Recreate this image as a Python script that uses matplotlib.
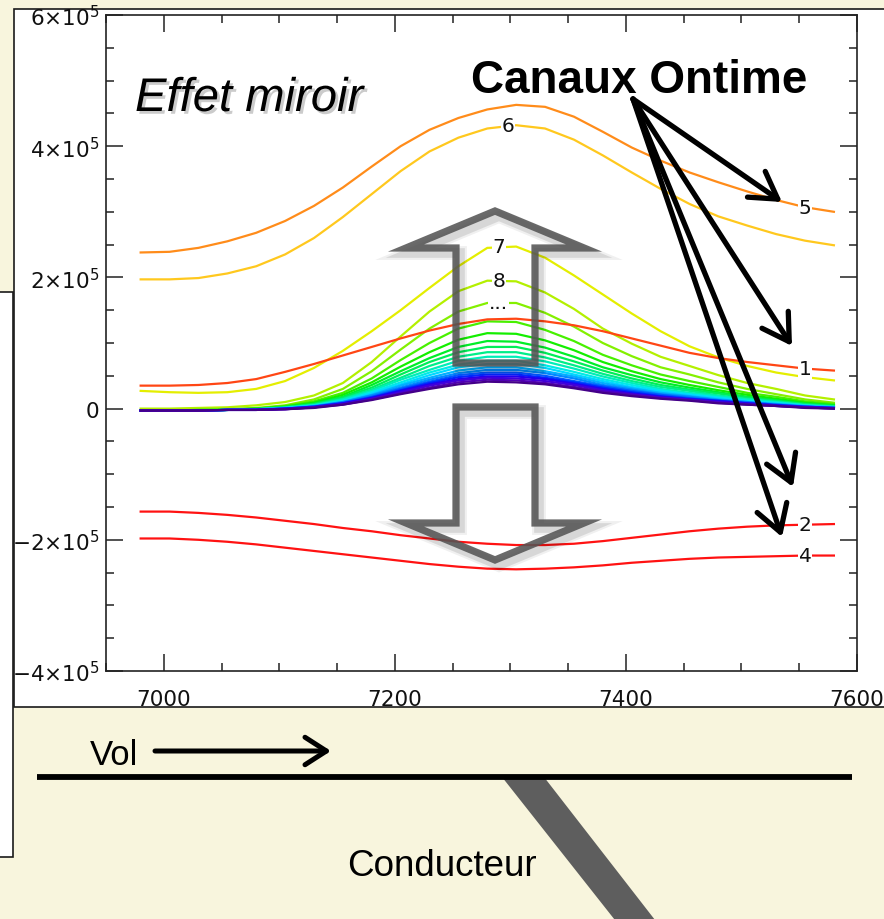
import matplotlib
matplotlib.use("Agg")
import matplotlib.pyplot as plt
import numpy as np
from matplotlib.patches import Polygon, Rectangle, FancyArrowPatch
from matplotlib.lines import Line2D
import matplotlib.patheffects as pe
from matplotlib.ticker import MultipleLocator, FuncFormatter

W, H, DPI = 884, 920, 100

# ---------------- data (values in units of 1e5) ----------------
x_pos = [6980, 7005, 7030, 7055, 7080, 7105, 7130, 7155, 7180, 7205, 7230, 7255, 7280,
         7305, 7330, 7355, 7380, 7405, 7430, 7455, 7480, 7505, 7530, 7555, 7580]

ch05 = [2.38, 2.39, 2.45, 2.55, 2.68, 2.86, 3.09, 3.37, 3.69, 4.00, 4.25, 4.43, 4.56,
        4.63, 4.60, 4.45, 4.22, 3.98, 3.78, 3.60, 3.45, 3.31, 3.18, 3.07, 3.00]
ch06 = [1.97, 1.97, 1.99, 2.06, 2.17, 2.35, 2.60, 2.92, 3.27, 3.62, 3.92, 4.13, 4.27,
        4.32, 4.27, 4.10, 3.86, 3.60, 3.35, 3.12, 2.93, 2.79, 2.66, 2.56, 2.49]
ch01 = [0.35, 0.35, 0.36, 0.39, 0.45, 0.56, 0.68, 0.81, 0.94, 1.07, 1.19, 1.29, 1.36,
        1.37, 1.33, 1.27, 1.18, 1.07, 0.96, 0.85, 0.77, 0.71, 0.66, 0.61, 0.58]
ch02 = [-1.57, -1.57, -1.59, -1.62, -1.66, -1.71, -1.76, -1.82, -1.87, -1.93, -1.98, -2.03, -2.06,
        -2.08, -2.08, -2.06, -2.02, -1.97, -1.92, -1.87, -1.83, -1.80, -1.78, -1.77, -1.76]
ch04 = [-1.98, -1.98, -2.00, -2.03, -2.07, -2.12, -2.17, -2.22, -2.27, -2.32, -2.37, -2.41, -2.44,
        -2.45, -2.44, -2.42, -2.39, -2.35, -2.32, -2.29, -2.27, -2.26, -2.25, -2.24, -2.24]
ch07 = [0.27, 0.25, 0.24, 0.25, 0.30, 0.42, 0.62, 0.88, 1.18, 1.50, 1.84, 2.17, 2.45,
        2.47, 2.30, 2.03, 1.74, 1.45, 1.18, 0.95, 0.78, 0.65, 0.55, 0.48, 0.43]
ch08 = [0.00, 0.00, 0.01, 0.02, 0.05, 0.10, 0.20, 0.39, 0.71, 1.10, 1.48, 1.79, 1.95,
        1.94, 1.77, 1.52, 1.22, 0.99, 0.79, 0.65, 0.51, 0.39, 0.30, 0.20, 0.14]
ch09 = [-0.03, -0.03, -0.02, -0.01, 0.01, 0.05, 0.14, 0.30, 0.57, 0.90, 1.22, 1.48, 1.61,
        1.61, 1.46, 1.25, 1.00, 0.80, 0.63, 0.52, 0.40, 0.30, 0.22, 0.14, 0.09]
ch10 = [-0.03, -0.03, -0.02, -0.01, 0.00, 0.04, 0.11, 0.24, 0.46, 0.74, 1.00, 1.22, 1.33,
        1.32, 1.20, 1.03, 0.82, 0.66, 0.52, 0.42, 0.33, 0.24, 0.18, 0.11, 0.07]
ch11 = [-0.03, -0.03, -0.02, -0.02, 0.00, 0.03, 0.09, 0.21, 0.40, 0.64, 0.86, 1.05, 1.15,
        1.14, 1.04, 0.89, 0.71, 0.57, 0.45, 0.36, 0.28, 0.21, 0.15, 0.09, 0.05]
ch12 = [-0.03, -0.03, -0.03, -0.02, 0.00, 0.02, 0.08, 0.18, 0.36, 0.57, 0.77, 0.94, 1.03,
        1.02, 0.93, 0.79, 0.63, 0.51, 0.40, 0.32, 0.25, 0.18, 0.13, 0.08, 0.05]
ch13 = [-0.03, -0.03, -0.03, -0.02, -0.01, 0.02, 0.07, 0.17, 0.32, 0.52, 0.71, 0.86, 0.94,
        0.94, 0.85, 0.72, 0.58, 0.46, 0.36, 0.29, 0.23, 0.17, 0.12, 0.07, 0.04]
ch14 = [-0.03, -0.03, -0.03, -0.02, -0.01, 0.02, 0.06, 0.15, 0.29, 0.47, 0.65, 0.79, 0.86,
        0.86, 0.78, 0.66, 0.53, 0.42, 0.33, 0.27, 0.20, 0.15, 0.11, 0.06, 0.03]
ch15 = [-0.03, -0.03, -0.03, -0.02, -0.01, 0.01, 0.05, 0.14, 0.27, 0.44, 0.59, 0.73, 0.79,
        0.79, 0.72, 0.61, 0.49, 0.39, 0.30, 0.24, 0.19, 0.14, 0.10, 0.05, 0.03]
ch16 = [-0.03, -0.03, -0.03, -0.02, -0.01, 0.01, 0.05, 0.12, 0.25, 0.40, 0.55, 0.67, 0.73,
        0.73, 0.66, 0.56, 0.45, 0.36, 0.28, 0.22, 0.17, 0.12, 0.09, 0.05, 0.02]
ch17 = [-0.03, -0.03, -0.03, -0.02, -0.01, 0.01, 0.04, 0.11, 0.23, 0.37, 0.51, 0.63, 0.68,
        0.68, 0.62, 0.52, 0.42, 0.33, 0.26, 0.21, 0.16, 0.11, 0.08, 0.04, 0.02]
ch18 = [-0.03, -0.03, -0.03, -0.02, -0.01, 0.00, 0.04, 0.10, 0.21, 0.35, 0.47, 0.58, 0.63,
        0.63, 0.57, 0.49, 0.39, 0.31, 0.24, 0.19, 0.14, 0.10, 0.07, 0.04, 0.02]
ch19 = [-0.03, -0.03, -0.03, -0.02, -0.01, 0.00, 0.03, 0.10, 0.20, 0.32, 0.44, 0.54, 0.59,
        0.59, 0.54, 0.46, 0.36, 0.29, 0.22, 0.18, 0.13, 0.10, 0.06, 0.03, 0.01]
ch20 = [-0.03, -0.03, -0.03, -0.02, -0.02, 0.00, 0.03, 0.09, 0.18, 0.30, 0.41, 0.51, 0.55,
        0.55, 0.50, 0.42, 0.34, 0.27, 0.21, 0.16, 0.12, 0.09, 0.06, 0.03, 0.01]
ch21 = [-0.03, -0.03, -0.03, -0.02, -0.02, 0.00, 0.03, 0.08, 0.17, 0.28, 0.39, 0.48, 0.52,
        0.52, 0.47, 0.40, 0.32, 0.25, 0.19, 0.15, 0.12, 0.08, 0.05, 0.03, 0.01]
ch22 = [-0.03, -0.03, -0.03, -0.02, -0.02, 0.00, 0.02, 0.08, 0.16, 0.27, 0.37, 0.45, 0.49,
        0.49, 0.45, 0.38, 0.30, 0.23, 0.18, 0.14, 0.11, 0.08, 0.05, 0.02, 0.01]
ch23 = [-0.03, -0.03, -0.03, -0.02, -0.02, -0.01, 0.02, 0.07, 0.15, 0.25, 0.35, 0.43, 0.47,
        0.46, 0.42, 0.36, 0.28, 0.22, 0.17, 0.14, 0.10, 0.07, 0.04, 0.02, 0.00]
ch24 = [-0.03, -0.03, -0.03, -0.02, -0.02, -0.01, 0.02, 0.06, 0.14, 0.23, 0.32, 0.40, 0.44,
        0.43, 0.39, 0.33, 0.26, 0.21, 0.16, 0.13, 0.09, 0.06, 0.04, 0.02, 0.00]
ch25 = [-0.03, -0.03, -0.03, -0.02, -0.02, -0.01, 0.01, 0.06, 0.13, 0.22, 0.30, 0.37, 0.41,
        0.40, 0.37, 0.31, 0.24, 0.19, 0.15, 0.12, 0.08, 0.06, 0.04, 0.01, 0.00]

late_channels = [ch07, ch08, ch09, ch10, ch11, ch12, ch13, ch14, ch15, ch16,
                 ch17, ch18, ch19, ch20, ch21, ch22, ch23, ch24, ch25]
late_colors = ["#e4ee00", "#b4f000", "#84f000", "#48f000", "#14ee00", "#00ee28",
               "#00ee58", "#00ee88", "#00eeb8", "#00eae6", "#00d8ff", "#00b0ff",
               "#0088ff", "#0058ff", "#0028ff", "#2000f0", "#4000dc", "#5000b4", "#440088"]

early_channels = [ch01, ch06, ch05, ch02, ch04]
early_colors = ["#ff4614", "#ffc81e", "#ff8c1a", "#ff1212", "#ff1212"]

y_ticks = [-4, -2, 0, 2, 4, 6]
x_ticks = [7000, 7200, 7400, 7600]

# ---------------- figure ----------------
BG = "#f8f5dd"
fig = plt.figure(figsize=(W / DPI, H / DPI), dpi=DPI)
fig.patch.set_facecolor(BG)


def F(px, py):
    return (px / W, 1 - py / H)


def rect(x0, y0, x1, y1, **kw):
    a = F(x0, y1)
    b = F(x1, y0)
    r = Rectangle(a, b[0] - a[0], b[1] - a[1], transform=fig.transFigure, **kw)
    fig.add_artist(r)


# white panels
rect(14, 10, 900, 708, facecolor="white", edgecolor="#1a1a1a", lw=1.2, zorder=-2)
rect(-10, 293, 13, 858, facecolor="white", edgecolor="#1a1a1a", lw=1.2, zorder=-2)

ax = fig.add_axes([106 / W, 1 - 672 / H, 751 / W, 656 / H])
ax.set_facecolor("white")
ax.set_xlim(6950, 7600)
ax.set_ylim(-4e5, 6e5)

xs = np.array(x_pos)
for vals, col in zip(late_channels, late_colors):
    ax.plot(xs, np.array(vals) * 1e5, color=col, lw=1.6)
for vals, col in zip(early_channels, early_colors):
    ax.plot(xs, np.array(vals) * 1e5, color=col, lw=1.6)

ax.set_xticks(x_ticks)
ax.xaxis.set_minor_locator(MultipleLocator(50))
ax.set_yticks([v * 1e5 for v in y_ticks])
ax.yaxis.set_minor_locator(MultipleLocator(5e4))


def yfmt(v, pos):
    m = int(round(v / 1e5))
    if m == 0:
        return "0"
    return r"$%d{\times}10^{5}$" % m


ax.yaxis.set_major_formatter(FuncFormatter(yfmt))
ax.tick_params(which="both", direction="in", top=True, right=True, width=1.1,
               color="#222222", labelcolor="#111111")
ax.tick_params(which="major", length=12)
ax.tick_params(which="minor", length=6)
ax.tick_params(axis="x", which="major", pad=13, labelsize=15.5)
ax.tick_params(axis="y", which="major", pad=5, labelsize=15.5)
for s in ax.spines.values():
    s.set_linewidth(1.2)
    s.set_color("#222222")

# channel labels on curves
lab_kw = dict(fontsize=14.5, ha="center", va="center", color="#111111", zorder=4,
              bbox=dict(facecolor="white", edgecolor="none", pad=0.6))
i_end = 23
ax.text(xs[i_end], ch05[i_end] * 1e5, "5", **lab_kw)
ax.text(xs[i_end], ch01[i_end] * 1e5, "1", **lab_kw)
ax.text(xs[i_end], ch02[i_end] * 1e5, "2", **lab_kw)
ax.text(xs[i_end], ch04[i_end] * 1e5, "4", **lab_kw)
ax.text(7298, max(ch06) * 1e5, "6", **lab_kw)
ax.text(7290, max(ch07) * 1e5, "7", **lab_kw)
ax.text(7290, max(ch08) * 1e5, "8", **lab_kw)
ax.text(7290, max(ch09) * 1e5, "...", **lab_kw)

# hollow grey arrows
up = [(495, 212), (584, 249), (535, 249), (535, 364), (456, 364), (456, 249), (406, 249)]
down = [(456, 408), (535, 408), (535, 524), (584, 524), (495, 561), (406, 524), (456, 524)]
for pts in (up, down):
    for lw, al in [(10, 0.06), (7, 0.10)]:
        sh = Polygon([F(x + 4, y + 5) for x, y in pts], closed=True, fill=False,
                     edgecolor="black", alpha=al, lw=lw, joinstyle="miter",
                     transform=fig.transFigure, zorder=5)
        fig.add_artist(sh)
    p = Polygon([F(x, y) for x, y in pts], closed=True, fill=False,
                edgecolor="#555555", alpha=0.88, lw=5.2, joinstyle="miter",
                transform=fig.transFigure, zorder=5)
    fig.add_artist(p)

# titles
fig.text(*F(135, 112), "Effet miroir", fontsize=34, style="italic",
         family="Liberation Sans", ha="left", va="baseline", zorder=7,
         path_effects=[pe.SimplePatchShadow(offset=(2, -2), shadow_rgbFace="#555555", alpha=0.3),
                       pe.Normal()])
fig.text(*F(639, 93), "Canaux Ontime", fontsize=33, fontweight="bold",
         family="Liberation Sans", ha="center", va="baseline", zorder=7)

start = (633, 100)
targets = [(782, 203), (792, 347), (793, 488), (782, 538)]
for t in targets:
    a = FancyArrowPatch(F(*start), F(*t), transform=fig.transFigure,
                        arrowstyle="->,head_length=0.75,head_width=0.45",
                        mutation_scale=25, lw=3.8, color="black",
                        shrinkA=0, shrinkB=0, zorder=6)
    fig.add_artist(a)

# bottom sketch
cond = Polygon([F(502, 778), F(544, 778), F(662, 930), F(622, 930)], closed=True,
               facecolor="#5e5e5e", edgecolor="none", transform=fig.transFigure, zorder=1)
fig.add_artist(cond)
fig.add_artist(Line2D([37 / W, 852 / W], [1 - 778 / H] * 2, transform=fig.transFigure,
                      lw=4.2, color="black", solid_capstyle="butt", zorder=2))
fig.text(*F(90, 765), "Vol", fontsize=25, family="Liberation Sans", ha="left",
         va="baseline", color="black")
fig.add_artist(FancyArrowPatch(F(155, 752), F(331, 752), transform=fig.transFigure,
                               arrowstyle="->,head_length=0.7,head_width=0.45",
                               mutation_scale=22, lw=3.6, color="black",
                               shrinkA=0, shrinkB=0, zorder=3))
fig.text(*F(347, 876), "Conducteur", fontsize=26.5, family="Liberation Sans",
         ha="left", va="baseline", color="black")

fig.savefig("out.png", dpi=DPI, facecolor=BG)
